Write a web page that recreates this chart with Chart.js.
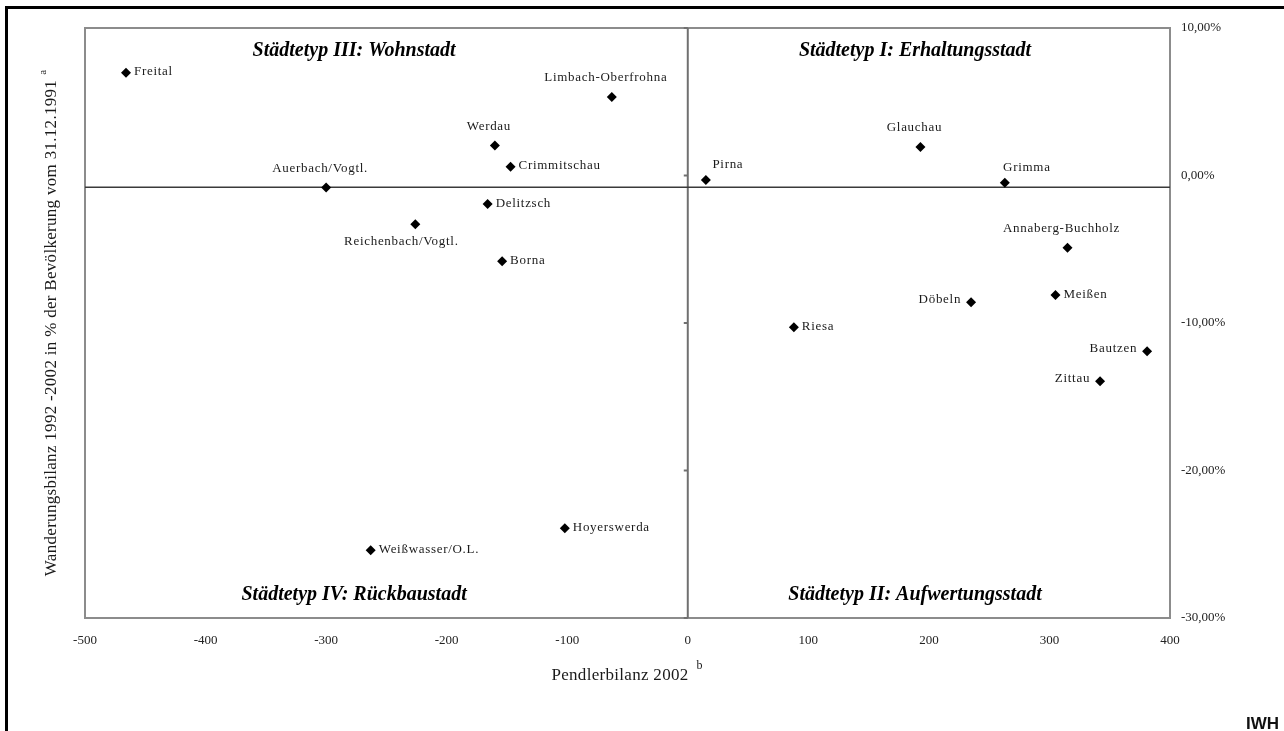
<!DOCTYPE html>
<html><head><meta charset="utf-8">
<script src="https://cdn.jsdelivr.net/npm/chart.js@4/dist/chart.umd.min.js"></script>
<style>html,body{margin:0;padding:0;background:#fff;overflow:hidden}#wrap{position:relative;width:1284px;height:731px}</style>
</head><body><div id="wrap"><canvas id="c" width="1284" height="731"></canvas></div>
<script>
const cities = ["Freital","Limbach-Oberfrohna","Werdau","Crimmitschau","Auerbach/Vogtl.","Delitzsch","Reichenbach/Vogtl.","Borna","Hoyerswerda","Weißwasser/O.L.","Pirna","Glauchau","Grimma","Annaberg-Buchholz","Meißen","Döbeln","Riesa","Bautzen","Zittau"];
const pendlerbilanz = [-466,-63,-160,-147,-300,-166,-226,-154,-102,-263,15,193,263,315,305,235,88,381,342];
const wanderungsbilanz = [6.97,5.32,2.04,0.59,-0.81,-1.94,-3.30,-5.81,-23.92,-25.41,-0.31,1.93,-0.49,-4.90,-8.11,-8.59,-10.28,-11.91,-13.95];
const labelPlacement = ["right","above","above","right","above","right","below","right","right","right","aboveRight","above","aboveRight","above","right","left","right","left","left"];
const xTicks = [-500,-400,-300,-200,-100,0,100,200,300,400];
const yTicks = [10,0,-10,-20,-30];
const crossingY = -0.8;
const quadrantTitles = ["Städtetyp III: Wohnstadt","Städtetyp I: Erhaltungsstadt","Städtetyp IV: Rückbaustadt","Städtetyp II: Aufwertungsstadt"];
const yTitle = "Wanderungsbilanz 1992 -2002 in % der Bevölkerung vom 31.12.1991";
const xTitle = "Pendlerbilanz 2002";

const SERIF = '"Liberation Serif", "DejaVu Serif", serif';

function line(ctx,x1,y1,x2,y2){ctx.beginPath();ctx.moveTo(x1,y1);ctx.lineTo(x2,y2);ctx.stroke();}
function setLS(ctx,v){try{ctx.letterSpacing=v;}catch(e){}}

const deco = {
  id:'deco',
  beforeDatasetsDraw(chart){
    const {ctx, chartArea:a, scales:{x,y}} = chart;
    ctx.save();
    ctx.strokeStyle='#8c8c8c'; ctx.lineWidth=2;
    ctx.strokeRect(a.left, a.top, a.right-a.left, a.bottom-a.top);
    const x0 = x.getPixelForValue(0);
    ctx.strokeStyle='#707070'; ctx.lineWidth=2;
    line(ctx,x0,a.top,x0,a.bottom);
    yTicks.forEach(v=>{const py=y.getPixelForValue(v); line(ctx,x0-4,py,x0,py);});
    const yc = y.getPixelForValue(crossingY);
    ctx.strokeStyle='#3a3a3a'; ctx.lineWidth=1.5;
    line(ctx,a.left,yc,a.right,yc);
    ctx.restore();
  },
  afterDatasetsDraw(chart){
    const {ctx, chartArea:a} = chart;
    const meta = chart.getDatasetMeta(0);
    ctx.save();
    ctx.font = '13px '+SERIF;
    ctx.fillStyle = '#1a1a1a';
    setLS(ctx,'0.7px');
    meta.data.forEach((pt,i)=>{
      const t = cities[i], p = labelPlacement[i];
      let px = pt.x, py = pt.y;
      ctx.textBaseline='middle';
      if(p==='right'){ctx.textAlign='left'; ctx.fillText(t,px+8,py-1);}
      else if(p==='left'){ctx.textAlign='right'; ctx.fillText(t,px-10,py-3);}
      else if(p==='above'){ctx.textAlign='center'; ctx.fillText(t,px-6,py-19);}
      else if(p==='aboveRight'){ctx.textAlign='center'; ctx.fillText(t,px+22,py-15);}
      else if(p==='below'){ctx.textAlign='center'; ctx.fillText(t,px-14,py+17);}
    });
    setLS(ctx,'0px');
    ctx.font = 'italic bold 20px '+SERIF;
    ctx.fillStyle='#000';
    ctx.textAlign='center'; ctx.textBaseline='middle';
    const w = a.right-a.left;
    const lx = a.left + 0.248*w, rx = a.left + 0.765*w;
    const ty = a.top + 23, by = a.bottom - 23;
    ctx.fillText(quadrantTitles[0], lx, ty);
    ctx.fillText(quadrantTitles[1], rx, ty);
    ctx.fillText(quadrantTitles[2], lx, by);
    ctx.fillText(quadrantTitles[3], rx, by);
    ctx.restore();
  },
  afterDraw(chart){
    const {ctx} = chart;
    ctx.save();
    ctx.fillStyle='#000';
    ctx.fillRect(5,6,1279,3);
    ctx.fillRect(5,6,3,725);
    ctx.fillStyle='#1a1a1a';
    ctx.font='17px '+SERIF;
    setLS(ctx,'0.3px');
    ctx.translate(52,328); ctx.rotate(-Math.PI/2);
    ctx.textAlign='center'; ctx.textBaseline='middle';
    const tw = ctx.measureText(yTitle).width;
    ctx.fillText(yTitle,0,0);
    ctx.font='11px '+SERIF; ctx.textAlign='left';
    ctx.fillText('a', tw/2+5, -9);
    ctx.setTransform(1,0,0,1,0,0);
    ctx.font='17px '+SERIF; ctx.textAlign='center'; ctx.textBaseline='middle';
    const xw = ctx.measureText(xTitle).width;
    ctx.fillText(xTitle, 620, 676);
    ctx.font='12px '+SERIF; ctx.textAlign='left';
    ctx.fillText('b', 620+xw/2+8, 666);
    setLS(ctx,'0px');
    ctx.font='bold 17px "Liberation Sans", Arial, sans-serif';
    ctx.fillStyle='#111'; ctx.textAlign='right'; ctx.textBaseline='alphabetic';
    ctx.fillText('IWH', 1279, 729);
    ctx.restore();
  }
};

new Chart(document.getElementById('c'), {
  type:'scatter',
  data:{datasets:[{
    label:'Städte',
    data: pendlerbilanz.map((v,i)=>({x:v,y:wanderungsbilanz[i]})),
    pointStyle:'rectRot', pointRadius:5, pointHoverRadius:5,
    backgroundColor:'#000', borderColor:'#000', borderWidth:0
  }]},
  options:{
    responsive:false, animation:false, devicePixelRatio:1,
    layout:{padding:{left:85,top:28,right:0,bottom:0}},
    plugins:{legend:{display:false},tooltip:{enabled:false},title:{display:false}},
    scales:{
      x:{type:'linear',position:'bottom',min:-500,max:400,
        afterBuildTicks:s=>{s.ticks=xTicks.map(v=>({value:v}));},
        afterFit:s=>{s.height=113;},
        grid:{display:false,drawTicks:false}, border:{display:false},
        ticks:{padding:15,color:'#222',font:{family:SERIF,size:13},maxRotation:0,autoSkip:false}
      },
      y:{type:'linear',position:'right',min:-30,max:10,
        afterBuildTicks:s=>{s.ticks=yTicks.map(v=>({value:v}));},
        afterFit:s=>{s.width=114;},
        grid:{display:false,drawTicks:false}, border:{display:false},
        ticks:{padding:11,color:'#222',font:{family:SERIF,size:13},callback:v=>v.toFixed(2).replace('.',',')+'%',autoSkip:false}
      }
    }
  },
  plugins:[deco]
});
</script></body></html>
